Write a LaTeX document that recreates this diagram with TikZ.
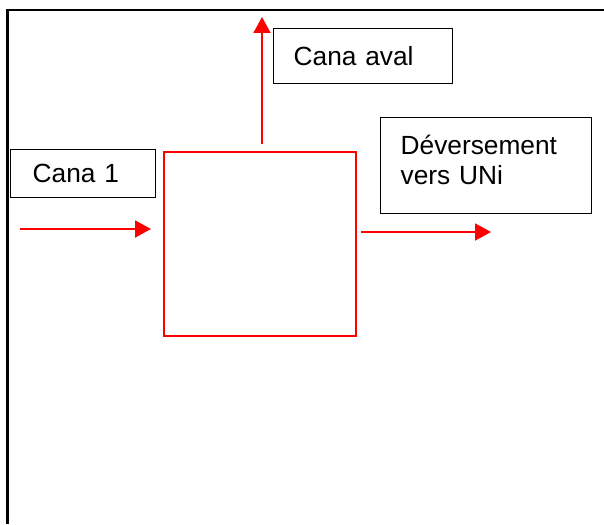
\documentclass[tikz,border=0pt]{standalone}
\usepackage{fontspec}
\setmainfont{Liberation Sans}
\usetikzlibrary{arrows.meta}
\begin{document}
\begin{tikzpicture}[x=1pt,y=-1pt,
  box/.style={draw=black,line width=1.3pt,anchor=north west,align=left,inner ysep=0pt,
    font=\fontsize{26.3}{30}\selectfont},
  tank/.style={draw=red,line width=1.8pt,anchor=north west,inner sep=0pt},
  flow/.style={draw=red,line width=1.9pt,-{Triangle[length=16pt,width=17pt]}},
  frame/.style={draw=black,line width=2.2pt}]
\useasboundingbox (0,0) rectangle (604,524);
\draw[frame] (604,10) -- (7.5,10) -- (7.5,524);
\node[tank,minimum width=192pt,minimum height=184pt] (sq) at (163,151) {};
\node[box,minimum width=145pt,minimum height=48pt,text width=101pt,inner xsep=22pt] (c1) at (10,149) {Cana 1};
\node[box,minimum width=179pt,minimum height=55pt,text width=139pt,inner xsep=20pt] (ca) at (273,28) {Cana aval};
\node[box,minimum width=211pt,minimum height=96pt,text width=171pt,inner xsep=20pt] (dv) at (380,117) {Déversement\\vers UNi\rule[-12pt]{0pt}{0pt}};
\coordinate (inS) at (20,229);
\coordinate (inE) at (151,229);
\coordinate (upS) at (262,144);
\coordinate (upE) at (262,17);
\coordinate (rtS) at (361,232);
\coordinate (rtE) at (491,232);
\draw[flow] (inS) -- (inE);
\draw[flow] (upS) -- (upE);
\draw[flow] (rtS) -- (rtE);
\end{tikzpicture}
\end{document}
